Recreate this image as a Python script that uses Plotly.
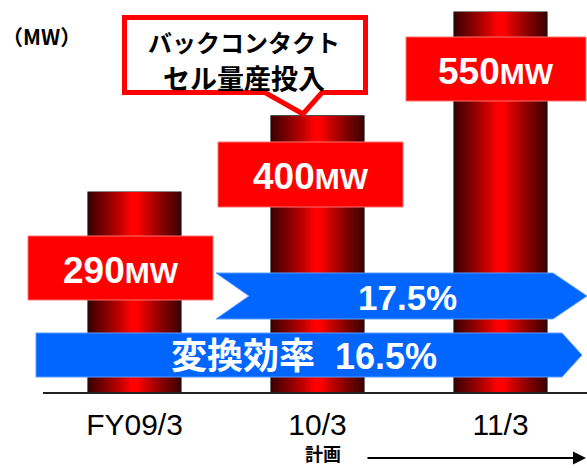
import plotly.graph_objects as go

# ---- data ----
categories = ["FY09/3", "10/3", "11/3"]
capacity_mw = [290, 400, 550]
unit_label = "MW"
efficiency_labels = ["変換効率  16.5%", "17.5%"]
callout_lines = ["バックコンタクト", "セル量産投入"]
plan_label = "計画"
axis_unit = "（MW）"

# ---- geometry helpers (pixel -> paper) ----
W, H = 587, 468
PLOT_H = 393  # plot area height (bottom margin 75)


def px(x):
    return x / W


def py(y):
    return (PLOT_H - y) / PLOT_H


fig = go.Figure()

# gradient bars: overlaid layers of decreasing width
BAR_W = 0.508
N = 30
for k in range(N):
    d_out = 1 - k / N
    d_mid = 1 - (k + 0.5) / N
    t = max(0.0, (d_mid - 0.08) / 0.92)
    r = int(round(255 - (255 - 60) * (t ** 0.85)))
    fig.add_trace(go.Bar(
        x=categories, y=capacity_mw,
        width=BAR_W * d_out,
        marker=dict(color=f"rgb({r},0,0)",
                    line=dict(color="#111111" if k == 0 else f"rgb({r},0,0)",
                              width=1.2 if k == 0 else 0)),
        showlegend=False, hoverinfo="skip",
    ))

shapes = []
annotations = []

# baseline
shapes.append(dict(type="line", xref="paper", yref="paper",
                   x0=px(43), x1=1, y0=py(393), y1=py(393),
                   line=dict(color="#222222", width=2), layer="above"))

# red value boxes
boxes = [(28, 213, 236, 300), (218, 403, 142, 207), (406, 586, 37, 101)]
for (x0, x1, y0, y1), v in zip(boxes, capacity_mw):
    shapes.append(dict(type="rect", xref="paper", yref="paper",
                       x0=px(x0), x1=px(x1), y0=py(y1), y1=py(y0),
                       fillcolor="#FF0000", line=dict(color="#FF7070", width=1),
                       layer="above"))
    annotations.append(dict(
        xref="paper", yref="paper", x=px((x0 + x1) / 2), y=py((y0 + y1) / 2 + 2),
        text=f"<b>{v}<span style='font-size:30px'>{unit_label}</span></b>",
        showarrow=False, xanchor="center", yanchor="middle",
        font=dict(family="Liberation Sans, Arial", size=37, color="white")))


def poly(points):
    s = "M " + " L ".join(f"{px(x):.5f},{py(y):.5f}" for x, y in points) + " Z"
    return s


# blue arrows
arrow1 = [(216, 273), (553, 273), (587, 296), (553, 319), (216, 319), (249, 296)]
arrow2 = [(36, 333), (562, 333), (582, 355), (562, 377), (36, 377)]
for pts in (arrow1, arrow2):
    shapes.append(dict(type="path", xref="paper", yref="paper", path=poly(pts),
                       fillcolor="#0066FF", line=dict(color="#5a9cff", width=1),
                       layer="above"))

annotations.append(dict(xref="paper", yref="paper", x=px(407), y=py(297),
                        text=f"<b>{efficiency_labels[1]}</b>", showarrow=False,
                        xanchor="center", yanchor="middle",
                        font=dict(family="Liberation Sans, Arial", size=35, color="white")))
annotations.append(dict(xref="paper", yref="paper", x=px(304), y=py(356),
                        text=f"<b>{efficiency_labels[0]}</b>", showarrow=False,
                        xanchor="center", yanchor="middle",
                        font=dict(family="Liberation Sans, Noto Sans CJK JP", size=36, color="white")))

# callout box
callout = [(124.5, 17.5), (365.5, 17.5), (365.5, 92.5), (322, 92.5), (303, 114),
           (265, 92.5), (124.5, 92.5)]
shapes.append(dict(type="path", xref="paper", yref="paper", path=poly(callout),
                   fillcolor="white", line=dict(color="#FF0000", width=5),
                   layer="above"))
annotations.append(dict(xref="paper", yref="paper", x=px(244), y=py(42),
                        text=f"<b>{callout_lines[0]}</b>", showarrow=False,
                        xanchor="center", yanchor="middle",
                        font=dict(family="Noto Sans CJK JP", size=24, color="black")))
annotations.append(dict(xref="paper", yref="paper", x=px(244), y=py(77),
                        text=f"<b>{callout_lines[1]}</b>", showarrow=False,
                        xanchor="center", yanchor="middle",
                        font=dict(family="Noto Sans CJK JP", size=27, color="black")))

# unit label
annotations.append(dict(xref="paper", yref="paper", x=px(0), y=py(36),
                        text=f"<b>{axis_unit}</b>", showarrow=False,
                        xanchor="left", yanchor="middle",
                        font=dict(family="Noto Sans CJK JP", size=21, color="black")))

# plan label and arrow
annotations.append(dict(xref="paper", yref="paper", x=px(323), y=py(453),
                        text=f"<b>{plan_label}</b>", showarrow=False,
                        xanchor="center", yanchor="middle",
                        font=dict(family="Noto Sans CJK JP", size=18, color="black")))
annotations.append(dict(xref="paper", yref="paper", x=px(586), y=py(458),
                        ax=-(586 - 366), ay=0, text="", showarrow=True,
                        arrowhead=2, arrowsize=1.3, arrowwidth=2, arrowcolor="black",
                        standoff=0))

fig.update_layout(
    width=W, height=H,
    margin=dict(l=0, r=0, t=0, b=H - PLOT_H),
    paper_bgcolor="white", plot_bgcolor="white",
    barmode="overlay",
    shapes=shapes, annotations=annotations,
    xaxis=dict(range=[-0.735, 2.4727], showgrid=False, zeroline=False, showline=False,
               ticks="outside", ticklen=5, tickcolor="rgba(0,0,0,0)",
               tickfont=dict(family="Liberation Sans, Arial", size=30, color="black"),
               fixedrange=True),
    yaxis=dict(range=[0, 567.3], visible=False, fixedrange=True),
    showlegend=False,
)

fig.write_html("out.html")
